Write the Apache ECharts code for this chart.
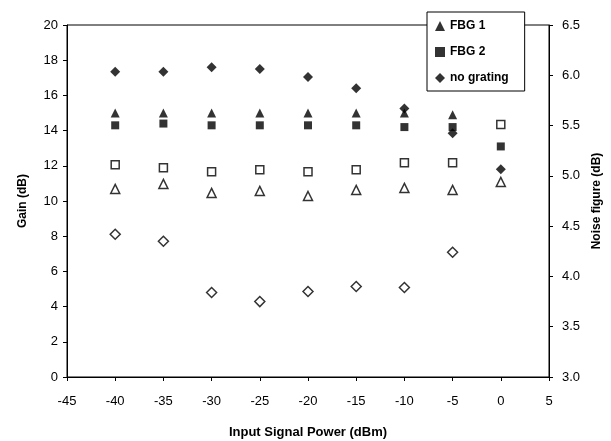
<!DOCTYPE html>
<html>
<head>
<meta charset="utf-8">
<script src="https://cdn.jsdelivr.net/npm/echarts@6/dist/echarts.min.js"></script>
<style>
  html, body { margin: 0; padding: 0; background: #fff; }
  #chart { width: 611px; height: 441px; }
</style>
</head>
<body>
<div id="chart"></div>
<script>
// input signal power (dBm)
var power = [-40, -35, -30, -25, -20, -15, -10, -5, 0];

// gain (dB), filled markers, left axis
var gainFbg1 = [15.0, 15.0, 15.0, 15.0, 15.0, 15.0, 15.0, 14.9, null];
var gainFbg2 = [14.3, 14.4, 14.3, 14.3, 14.3, 14.3, 14.2, 14.2, 13.1];
var gainNoGrating = [17.35, 17.35, 17.6, 17.5, 17.05, 16.4, 15.25, 13.85, 11.8];

// noise figure (dB), hollow markers, right axis
var nfFbg1 = [4.87, 4.92, 4.83, 4.85, 4.80, 4.86, 4.88, 4.86, 4.94];
var nfFbg2 = [5.11, 5.08, 5.04, 5.06, 5.04, 5.06, 5.13, 5.13, 5.51];
var nfNoGrating = [4.42, 4.35, 3.84, 3.75, 3.85, 3.90, 3.89, 4.24, null];

function pairs(ys) {
  return power.map(function (x, i) { return [x, ys[i]]; });
}

var font = 'Liberation Sans, Arial, sans-serif';

function filled(name, symbol, size, ys) {
  return {
    name: name, type: 'scatter', yAxisIndex: 0,
    symbol: symbol, symbolSize: size,
    itemStyle: { color: '#000' },
    data: pairs(ys)
  };
}
function hollow(name, symbol, size, ys) {
  return {
    name: name, type: 'scatter', yAxisIndex: 1,
    symbol: symbol, symbolSize: size,
    itemStyle: { color: '#fff', borderColor: '#000', borderWidth: 1.5 },
    data: pairs(ys)
  };
}

var chart = echarts.init(document.getElementById('chart'));
chart.setOption({
  animation: false,
  backgroundColor: '#fff',
  textStyle: { fontFamily: font },
  grid: {
    left: 67, right: 62, top: 25, bottom: 64,
    outerBoundsMode: 'none',
    containLabel: false,
    show: true, borderColor: '#000', borderWidth: 1
  },
  legend: {
    data: ['FBG 1', 'FBG 2', 'no grating'],
    orient: 'vertical',
    left: 427, top: 12,
    padding: [8, 16, 7, 8],
    itemGap: 14,
    itemWidth: 10, itemHeight: 10,
    backgroundColor: '#fff',
    borderColor: '#000', borderWidth: 1,
    textStyle: { fontSize: 12, fontWeight: 'bold', color: '#000', fontFamily: font }
  },
  xAxis: {
    type: 'value', min: -45, max: 5, interval: 5,
    name: 'Input Signal Power (dBm)',
    nameLocation: 'middle', nameGap: 49,
    nameTextStyle: { fontSize: 13, fontWeight: 'bold', color: '#000' },
    axisLine: { onZero: false, lineStyle: { color: '#000' } },
    axisTick: { length: 4, lineStyle: { color: '#000' } },
    axisLabel: { fontSize: 13, color: '#000', margin: 18 },
    splitLine: { show: false }
  },
  yAxis: [{
    type: 'value', min: 0, max: 20, interval: 2,
    name: 'Gain (dB)',
    nameLocation: 'middle', nameGap: 38,
    nameTextStyle: { fontSize: 12, fontWeight: 'bold', color: '#000' },
    axisLine: { show: true, onZero: false, lineStyle: { color: '#000' } },
    axisTick: { show: true, length: 4, lineStyle: { color: '#000' } },
    axisLabel: { fontSize: 13, color: '#000', margin: 9 },
    splitLine: { show: false }
  }, {
    type: 'value', min: 3, max: 6.5, interval: 0.5,
    position: 'right',
    name: 'Noise figure (dB)',
    nameLocation: 'middle', nameGap: 38, nameRotate: 90,
    nameTextStyle: { fontSize: 12, fontWeight: 'bold', color: '#000' },
    axisLine: { show: true, onZero: false, lineStyle: { color: '#000' } },
    axisTick: { show: true, length: 4, lineStyle: { color: '#000' } },
    axisLabel: {
      fontSize: 13, color: '#000', margin: 13,
      formatter: function (v) { return v.toFixed(1); }
    },
    splitLine: { show: false }
  }],
  series: [
    hollow('FBG 1 NF', 'triangle', 9, nfFbg1),
    hollow('FBG 2 NF', 'rect', 8, nfFbg2),
    hollow('no grating NF', 'diamond', 10, nfNoGrating),
    filled('FBG 1', 'triangle', 9, gainFbg1),
    filled('FBG 2', 'rect', 8, gainFbg2),
    filled('no grating', 'diamond', 10, gainNoGrating)
  ]
});
</script>
</body>
</html>
